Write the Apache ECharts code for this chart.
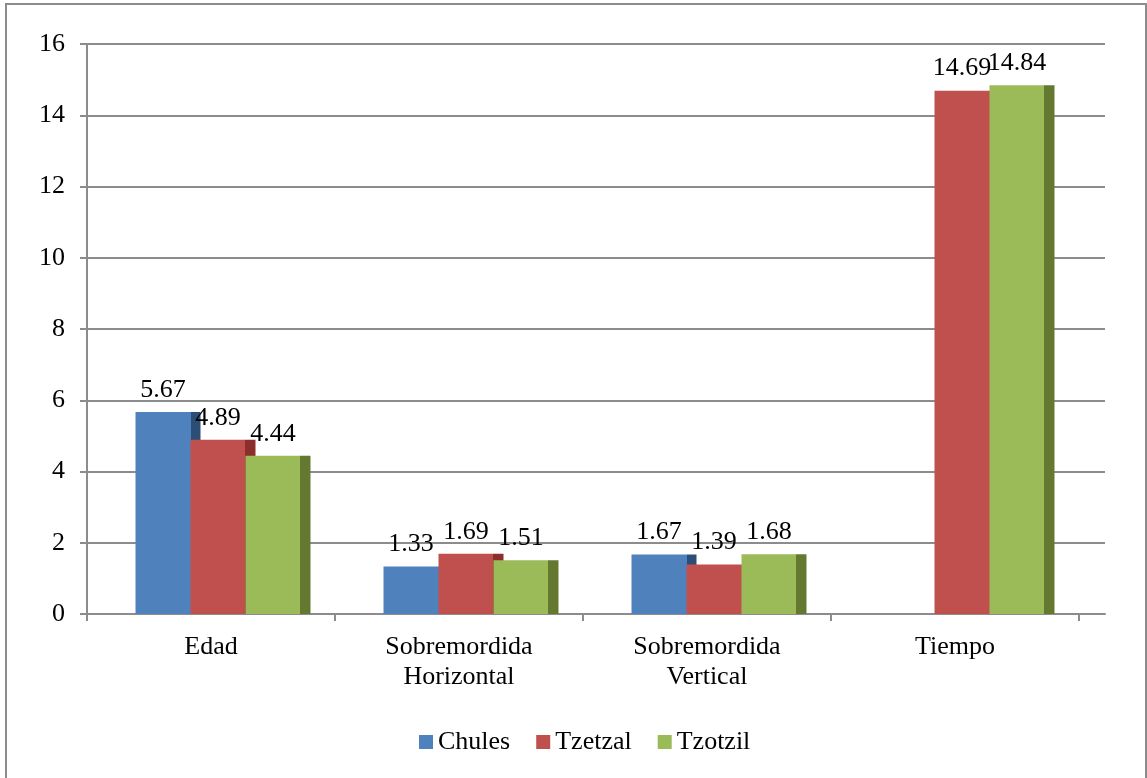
<!DOCTYPE html>
<html>
<head>
<meta charset="utf-8">
<script src="https://cdn.jsdelivr.net/npm/echarts@6/dist/echarts.min.js"></script>
<style>html,body{margin:0;padding:0;background:#fff}#c{width:1147px;height:778px}</style>
</head>
<body>
<div id="c"></div>
<script>
var categories = ['Edad', 'Sobremordida\nHorizontal', 'Sobremordida\nVertical', 'Tiempo'];
var seriesNames = ['Chules', 'Tzetzal', 'Tzotzil'];
var chules = [5.67, 1.33, 1.67, null];
var tzetzal = [4.89, 1.69, 1.39, 14.69];
var tzotzil = [4.44, 1.51, 1.68, 14.84];
var yTicks = [0, 2, 4, 6, 8, 10, 12, 14, 16];

var FONT = '"Liberation Serif", "DejaVu Serif", serif';
var FS = 26;
var GRAY = '#8c8c8c';
var fronts = ['#4F81BD', '#C0504D', '#9BBB59'];
var sides = ['#2C4D75', '#8C2F2C', '#64782F'];
var split = 55 / 65;

function grad(i) {
  return new echarts.graphic.LinearGradient(0, 0, 1, 0, [
    {offset: 0, color: fronts[i]},
    {offset: split, color: fronts[i]},
    {offset: split, color: sides[i]},
    {offset: 1, color: sides[i]}
  ]);
}

function draw() {
  var chart = echarts.init(document.getElementById('c'));
  var dataSets = [chules, tzetzal, tzotzil];
  var series = dataSets.map(function (d, i) {
    return {
      name: seriesNames[i],
      type: 'bar',
      xAxisIndex: 2,
      yAxisIndex: 2,
      data: d,
      barWidth: 65,
      barGap: '-15.4%',
      itemStyle: {color: grad(i)},
      label: {
        show: true,
        position: 'top',
        distance: 9,
        offset: [-5, 0],
        fontFamily: FONT,
        fontSize: FS,
        color: '#000',
        formatter: function (p) { return p.value.toFixed(2); }
      }
    };
  });

  chart.setOption({
    animation: false,
    backgroundColor: '#fff',
    color: fronts,
    textStyle: {fontFamily: FONT},
    graphic: [{
      type: 'rect',
      shape: {x: 6, y: 4, width: 1140, height: 780},
      style: {fill: 'none', stroke: GRAY, lineWidth: 2},
      silent: true
    }],
    legend: {
      bottom: 18,
      left: 414,
      itemWidth: 14,
      itemHeight: 14,
      itemGap: 26,
      icon: 'rect',
      formatter: function (n) { return '{t|' + n + '}'; },
      textStyle: {fontFamily: FONT, fontSize: FS, color: '#000',
                  rich: {t: {fontFamily: 'Liberation Serif', fontSize: FS, color: '#000'}}},
      data: seriesNames.map(function (n, i) { return {name: n, itemStyle: {color: fronts[i]}}; })
    },
    grid: [
      {left: 87, right: 42, top: 44, bottom: 164},
      {left: 87, right: 68, top: 44, bottom: 164},
      {left: 99, right: 56, top: 44, bottom: 164}
    ],
    xAxis: [
      {gridIndex: 0, type: 'value', min: 0, max: 1, axisLine: {show: true, lineStyle: {color: GRAY, width: 2}},
       axisTick: {show: false}, axisLabel: {show: false}, splitLine: {show: false}},
      {gridIndex: 1, type: 'category', data: categories, boundaryGap: true,
       axisLine: {show: false}, axisTick: {show: true, length: 7, lineStyle: {color: GRAY, width: 2}},
       axisLabel: {fontFamily: FONT, fontSize: FS, color: '#000', lineHeight: 30, margin: 18, interval: 0}},
      {gridIndex: 2, type: 'category', data: categories, show: false}
    ],
    yAxis: [
      {gridIndex: 0, type: 'value', min: 0, max: 16, interval: 2,
       axisLine: {show: true, lineStyle: {color: GRAY, width: 2}},
       axisTick: {show: true, length: 7, lineStyle: {color: GRAY, width: 2}},
       axisLabel: {fontFamily: FONT, fontSize: FS, color: '#000', margin: 22,
                   formatter: function (v) { return yTicks.indexOf(v) >= 0 ? String(v) : ''; }},
       splitLine: {show: true, lineStyle: {color: GRAY, width: 2}}},
      {gridIndex: 1, type: 'value', min: 0, max: 16, show: false},
      {gridIndex: 2, type: 'value', min: 0, max: 16, show: false}
    ],
    series: series
  });
}

if (document.fonts && document.fonts.load) {
  document.fonts.load('26px "Liberation Serif"').then(draw, draw);
} else {
  draw();
}
</script>
</body>
</html>
